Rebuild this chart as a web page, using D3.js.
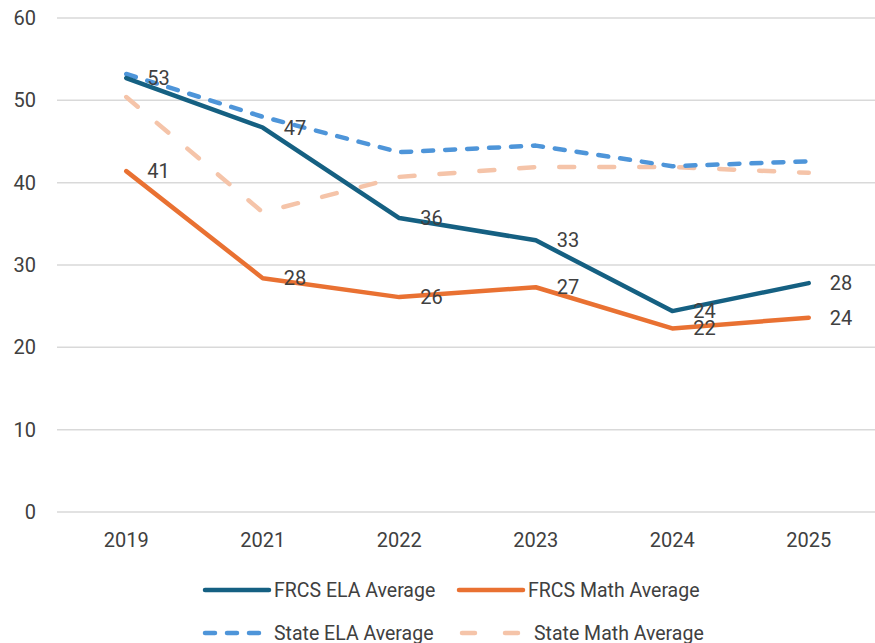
<!DOCTYPE html>
<html>
<head>
<meta charset="utf-8">
<script src="https://cdn.jsdelivr.net/npm/d3@7"></script>
<style>
  body { margin: 0; background: #fff; }
  text { font-family: Roboto, "Open Sans", sans-serif; fill: #404040; }
</style>
</head>
<body>
<div id="chart"></div>
<script>
const years = ["2019", "2021", "2022", "2023", "2024", "2025"];
const frcsEla = [52.7, 46.7, 35.7, 33.0, 24.4, 27.8];
const frcsMath = [41.4, 28.4, 26.1, 27.3, 22.3, 23.6];
const stateEla = [53.2, 48.0, 43.7, 44.5, 42.0, 42.6];
const stateMath = [50.4, 36.4, 40.7, 41.9, 41.9, 41.2];
const yTicks = [0, 10, 20, 30, 40, 50, 60];

const width = 875, height = 643;

let svg = d3.select("#chart")
    .append("svg")
    .attr("width", width)
    .attr("height", height);

let x = d3.scaleBand()
    .domain(years)
    .range([58, 877]);

let y = d3.scaleLinear()
    .domain([0, 60])
    .range([512, 18]);

// gridlines
svg.append("g")
    .selectAll("line")
    .data(yTicks)
    .enter()
    .append("line")
    .attr("x1", 57)
    .attr("x2", width)
    .attr("y1", d => y(d))
    .attr("y2", d => y(d))
    .attr("stroke", "#d9d9d9")
    .attr("stroke-width", 1.5);

// y axis labels
svg.append("g")
    .selectAll("text")
    .data(yTicks)
    .enter()
    .append("text")
    .attr("x", 36)
    .attr("y", d => y(d))
    .attr("dy", "0.35em")
    .style("text-anchor", "end")
    .style("font-size", "20px")
    .text(d => d);

// x axis labels
svg.append("g")
    .selectAll("text")
    .data(years)
    .enter()
    .append("text")
    .attr("x", d => x(d) + x.bandwidth() / 2)
    .attr("y", 540)
    .attr("dy", "0.35em")
    .style("text-anchor", "middle")
    .style("font-size", "20px")
    .text(d => d);

const series = [
    { name: "FRCS ELA Average", values: frcsEla, color: "#156082", dash: null, labels: true },
    { name: "FRCS Math Average", values: frcsMath, color: "#E97132", dash: null, labels: true },
    { name: "State ELA Average", values: stateEla, color: "#4E95D9", dash: "10,12", labels: false },
    { name: "State Math Average", values: stateMath, color: "#F5C4A9", dash: "15,25", labels: false }
];

let line = d3.line()
    .x((d, i) => x(years[i]) + x.bandwidth() / 2)
    .y(d => y(d));

// draw state lines first, then FRCS on top
[series[3], series[2], series[1], series[0]].forEach(s => {
    svg.append("path")
        .datum(s.values)
        .attr("d", line)
        .attr("fill", "none")
        .attr("stroke", s.color)
        .attr("stroke-width", 4.5)
        .attr("stroke-linecap", "round")
        .attr("stroke-linejoin", "round")
        .attr("stroke-dasharray", s.dash);
});

// data labels
series.filter(s => s.labels).forEach(s => {
    svg.append("g")
        .selectAll("text")
        .data(s.values)
        .enter()
        .append("text")
        .attr("x", (d, i) => x(years[i]) + x.bandwidth() / 2 + 21)
        .attr("y", d => y(d))
        .attr("dy", "0.35em")
        .style("font-size", "20px")
        .text(d => Math.round(d));
});

// legend
const legendPos = [
    { x: 203, y: 590 },
    { x: 457, y: 590 },
    { x: 203, y: 633 },
    { x: 460, y: 633 }
];
let legend = svg.append("g")
    .selectAll("g")
    .data(series)
    .enter()
    .append("g")
    .attr("transform", (d, i) => `translate(${legendPos[i].x}, ${legendPos[i].y})`);

legend.append("line")
    .attr("x1", 2)
    .attr("x2", d => d.dash ? 64 : 66)
    .attr("y1", 0)
    .attr("y2", 0)
    .attr("stroke", d => d.color)
    .attr("stroke-width", 4.5)
    .attr("stroke-linecap", "round")
    .attr("stroke-dasharray", (d, i) => i == 2 ? "10,12" : (i == 3 ? "13,30" : null));

legend.append("text")
    .attr("x", (d, i) => i == 3 ? 74 : 71)
    .attr("y", 0)
    .attr("dy", "0.35em")
    .style("font-size", "19.5px")
    .text(d => d.name);
</script>
</body>
</html>
